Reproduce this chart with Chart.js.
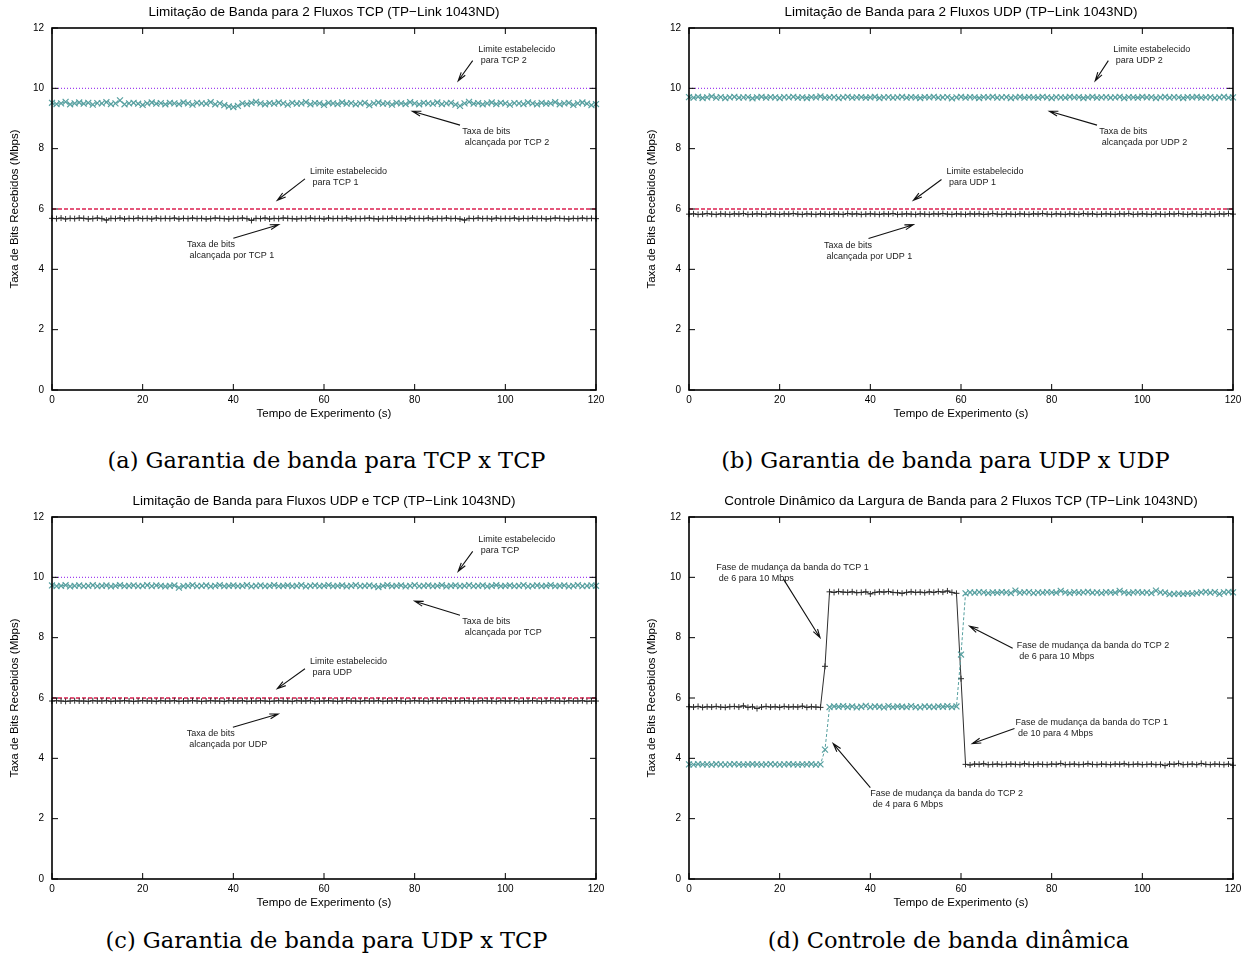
<!DOCTYPE html>
<html>
<head>
<meta charset="utf-8">
<script src="https://cdn.jsdelivr.net/npm/chart.js@4.4.0/dist/chart.umd.min.js"></script>
<style>
  body { margin: 0; background: #fff; }
  #page { position: relative; width: 1251px; height: 960px; overflow: hidden; }
  canvas { position: absolute; }
  .ttl { position: absolute; width: 544px; text-align: center; font: 13.5px "Liberation Sans", Arial, sans-serif; line-height: 16px; color: #000; white-space: nowrap; }
  .cap { position: absolute; width: 625px; text-align: center; font: 22.5px "DejaVu Serif", serif; line-height: 28px; color: #000; white-space: nowrap; }
</style>
</head>
<body>
<div id="page">
  <canvas id="chartA" width="625" height="430" style="left:0px;top:0px"></canvas>
  <canvas id="chartB" width="625" height="430" style="left:637px;top:0px"></canvas>
  <canvas id="chartC" width="625" height="430" style="left:0px;top:489px"></canvas>
  <canvas id="chartD" width="625" height="430" style="left:637px;top:489px"></canvas>

  <div class="ttl" style="left:52px;top:4px">Limitação de Banda para 2 Fluxos TCP (TP−Link 1043ND)</div>
  <div class="ttl" style="left:689px;top:4px">Limitação de Banda para 2 Fluxos UDP (TP−Link 1043ND)</div>
  <div class="ttl" style="left:52px;top:493px">Limitação de Banda para Fluxos UDP e TCP (TP−Link 1043ND)</div>
  <div class="ttl" style="left:639px;top:493px;width:644px">Controle Dinâmico da Largura de Banda para 2 Fluxos TCP (TP−Link 1043ND)</div>

  <div class="cap" style="left:14px;top:446px">(a) Garantia de banda para TCP x TCP</div>
  <div class="cap" style="left:633px;top:446px">(b) Garantia de banda para UDP x UDP</div>
  <div class="cap" style="left:14px;top:926px">(c) Garantia de banda para UDP x TCP</div>
  <div class="cap" style="left:636px;top:926px">(d) Controle de banda dinâmica</div>
</div>
<script>
/* axis ticks */
const xTicks = [0, 20, 40, 60, 80, 100, 120];
const yTicks = [0, 2, 4, 6, 8, 10, 12];

/* time of each sample (s) */
const seconds = [];
for (let s = 0; s <= 120; s++) seconds.push(s);

/* (a) TCP x TCP */
const tcp2RateA = [
  9.52,9.48,9.5,9.55,9.47,9.5,9.53,9.49,9.52,9.46,
  9.51,9.5,9.54,9.48,9.5,9.6,9.47,9.5,9.52,9.49,
  9.45,9.5,9.53,9.49,9.51,9.47,9.52,9.5,9.48,9.53,
  9.5,9.46,9.52,9.5,9.49,9.54,9.47,9.5,9.44,9.4,
  9.38,9.42,9.5,9.48,9.52,9.55,9.5,9.47,9.51,9.49,
  9.53,9.5,9.46,9.52,9.49,9.5,9.54,9.47,9.51,9.5,
  9.45,9.52,9.5,9.48,9.53,9.49,9.51,9.47,9.5,9.52,
  9.44,9.5,9.53,9.49,9.5,9.46,9.52,9.5,9.48,9.54,
  9.5,9.47,9.52,9.5,9.49,9.53,9.48,9.5,9.52,9.46,
  9.42,9.5,9.55,9.49,9.51,9.47,9.5,9.53,9.48,9.52,
  9.5,9.46,9.51,9.5,9.48,9.53,9.5,9.47,9.52,9.49,
  9.5,9.54,9.47,9.5,9.52,9.45,9.5,9.53,9.49,9.44,9.48
];
const tcp1RateA = [
  5.69,5.68,5.7,5.67,5.69,5.68,5.7,5.69,5.67,5.68,
  5.7,5.68,5.63,5.69,5.68,5.7,5.67,5.69,5.68,5.7,
  5.68,5.69,5.67,5.7,5.68,5.69,5.68,5.7,5.67,5.69,
  5.68,5.7,5.68,5.69,5.67,5.68,5.7,5.69,5.68,5.67,
  5.69,5.68,5.7,5.68,5.62,5.69,5.68,5.7,5.67,5.69,
  5.68,5.7,5.69,5.68,5.67,5.69,5.68,5.7,5.68,5.69,
  5.67,5.7,5.68,5.69,5.68,5.7,5.67,5.69,5.68,5.69,
  5.7,5.68,5.67,5.69,5.68,5.7,5.68,5.69,5.67,5.7,
  5.68,5.69,5.68,5.7,5.67,5.69,5.68,5.7,5.68,5.69,
  5.67,5.63,5.69,5.68,5.7,5.68,5.69,5.67,5.7,5.68,
  5.69,5.68,5.7,5.67,5.69,5.68,5.7,5.68,5.69,5.67,
  5.68,5.7,5.69,5.68,5.67,5.69,5.68,5.7,5.68,5.69,5.68
];
const limitsA = [10, 6];

/* (b) UDP x UDP */
const udp2RateB = [
  9.71,9.69,9.72,9.68,9.7,9.73,9.69,9.71,9.68,9.7,
  9.72,9.69,9.7,9.71,9.67,9.7,9.72,9.69,9.71,9.7,
  9.68,9.71,9.7,9.72,9.69,9.7,9.68,9.71,9.7,9.73,
  9.69,9.7,9.71,9.68,9.7,9.72,9.69,9.7,9.71,9.69,
  9.7,9.72,9.68,9.7,9.71,9.69,9.7,9.72,9.69,9.71,
  9.7,9.68,9.71,9.7,9.72,9.69,9.7,9.71,9.67,9.7,
  9.72,9.69,9.71,9.7,9.68,9.71,9.7,9.72,9.69,9.7,
  9.71,9.68,9.7,9.72,9.69,9.71,9.7,9.69,9.72,9.7,
  9.68,9.71,9.7,9.69,9.72,9.7,9.71,9.68,9.7,9.72,
  9.69,9.7,9.71,9.69,9.7,9.72,9.68,9.71,9.7,9.69,
  9.72,9.7,9.71,9.68,9.7,9.72,9.69,9.71,9.7,9.68,
  9.71,9.7,9.72,9.69,9.7,9.71,9.68,9.7,9.72,9.69,9.7
];
const udp1RateB = [
  5.83,5.84,5.82,5.83,5.85,5.83,5.82,5.84,5.83,5.82,
  5.84,5.83,5.85,5.82,5.83,5.84,5.83,5.82,5.84,5.83,
  5.82,5.84,5.83,5.85,5.83,5.82,5.84,5.83,5.82,5.84,
  5.83,5.82,5.84,5.83,5.82,5.85,5.83,5.84,5.82,5.83,
  5.84,5.83,5.82,5.84,5.83,5.85,5.82,5.83,5.84,5.83,
  5.82,5.84,5.83,5.82,5.84,5.83,5.85,5.83,5.82,5.84,
  5.83,5.82,5.84,5.83,5.84,5.82,5.83,5.85,5.83,5.82,
  5.84,5.83,5.82,5.84,5.83,5.82,5.84,5.83,5.85,5.83,
  5.82,5.84,5.83,5.82,5.84,5.83,5.82,5.85,5.83,5.84,
  5.82,5.83,5.84,5.83,5.82,5.84,5.83,5.85,5.82,5.83,
  5.84,5.83,5.82,5.84,5.83,5.82,5.84,5.83,5.85,5.83,
  5.82,5.84,5.83,5.82,5.84,5.83,5.82,5.84,5.83,5.85,5.83
];
const limitsB = [10, 6];

/* (c) UDP x TCP */
const tcpRateC = [
  9.73,9.71,9.72,9.74,9.7,9.72,9.73,9.71,9.72,9.74,
  9.71,9.72,9.73,9.7,9.72,9.74,9.71,9.72,9.73,9.71,
  9.72,9.74,9.71,9.73,9.72,9.7,9.72,9.73,9.66,9.71,
  9.72,9.74,9.71,9.72,9.73,9.7,9.72,9.74,9.71,9.72,
  9.73,9.71,9.72,9.74,9.7,9.72,9.73,9.71,9.72,9.74,
  9.71,9.72,9.73,9.71,9.72,9.74,9.7,9.72,9.73,9.71,
  9.72,9.74,9.71,9.72,9.73,9.7,9.72,9.74,9.71,9.72,
  9.73,9.71,9.68,9.72,9.74,9.71,9.72,9.73,9.7,9.72,
  9.74,9.71,9.72,9.73,9.71,9.72,9.74,9.7,9.72,9.73,
  9.71,9.72,9.74,9.71,9.72,9.73,9.7,9.72,9.74,9.71,
  9.72,9.73,9.71,9.72,9.74,9.7,9.72,9.73,9.71,9.72,
  9.74,9.71,9.72,9.73,9.7,9.72,9.74,9.71,9.72,9.73,9.72
];
const udpRateC = [
  5.9,5.91,5.9,5.89,5.9,5.91,5.9,5.9,5.89,5.91,
  5.9,5.9,5.91,5.89,5.9,5.9,5.91,5.9,5.89,5.9,
  5.91,5.9,5.9,5.89,5.91,5.9,5.9,5.91,5.89,5.9,
  5.9,5.91,5.9,5.89,5.9,5.91,5.9,5.9,5.89,5.91,
  5.9,5.9,5.91,5.89,5.9,5.9,5.91,5.9,5.89,5.9,
  5.91,5.9,5.9,5.89,5.91,5.9,5.9,5.91,5.89,5.9,
  5.9,5.91,5.9,5.89,5.9,5.91,5.9,5.9,5.89,5.91,
  5.9,5.9,5.91,5.89,5.9,5.9,5.91,5.9,5.89,5.9,
  5.91,5.9,5.9,5.89,5.91,5.9,5.9,5.91,5.89,5.9,
  5.9,5.91,5.9,5.89,5.9,5.91,5.9,5.9,5.89,5.91,
  5.9,5.9,5.91,5.89,5.9,5.9,5.91,5.9,5.89,5.9,
  5.91,5.9,5.9,5.89,5.91,5.9,5.9,5.91,5.89,5.9,5.9
];
const limitsC = [10, 6];

/* (d) dynamic control */
const tcp1RateD = [
  5.71,5.7,5.72,5.69,5.71,5.7,5.72,5.7,5.69,5.71,
  5.72,5.7,5.74,5.69,5.71,5.65,5.7,5.72,5.7,5.71,
  5.69,5.72,5.7,5.71,5.7,5.73,5.69,5.71,5.7,5.69,
  7.05,
  9.52,9.5,9.53,9.51,9.5,9.52,9.49,9.5,9.52,9.45,
  9.5,9.52,9.51,9.53,9.5,9.49,9.47,9.5,9.52,9.5,
  9.51,9.49,9.52,9.5,9.53,9.51,9.55,9.5,9.47,
  6.64,
  3.8,3.78,3.81,3.8,3.82,3.79,3.8,3.81,3.79,3.8,
  3.81,3.8,3.79,3.82,3.8,3.79,3.81,3.8,3.79,3.81,
  3.8,3.83,3.79,3.8,3.81,3.79,3.8,3.82,3.8,3.79,
  3.81,3.8,3.79,3.81,3.8,3.82,3.79,3.8,3.81,3.79,
  3.8,3.81,3.79,3.8,3.76,3.81,3.8,3.83,3.79,3.8,
  3.81,3.79,3.83,3.8,3.79,3.81,3.8,3.79,3.81,3.77
];
const tcp2RateD = [
  3.8,3.79,3.81,3.8,3.8,3.79,3.81,3.8,3.79,3.8,
  3.81,3.8,3.79,3.8,3.81,3.8,3.79,3.8,3.81,3.8,
  3.79,3.8,3.81,3.8,3.79,3.8,3.8,3.81,3.79,3.8,
  4.29,
  5.7,5.72,5.71,5.73,5.7,5.72,5.69,5.71,5.74,5.7,
  5.72,5.71,5.69,5.73,5.7,5.72,5.71,5.7,5.73,5.7,
  5.69,5.72,5.71,5.7,5.72,5.71,5.73,5.7,5.72,
  7.44,
  9.47,9.5,9.49,9.51,9.5,9.48,9.5,9.49,9.51,9.5,
  9.48,9.56,9.49,9.5,9.51,9.48,9.5,9.49,9.51,9.5,
  9.49,9.55,9.5,9.48,9.51,9.49,9.5,9.52,9.49,9.5,
  9.48,9.51,9.5,9.49,9.55,9.5,9.48,9.5,9.51,9.49,
  9.5,9.48,9.56,9.5,9.49,9.44,9.45,9.46,9.45,9.47,
  9.46,9.48,9.5,9.52,9.49,9.51,9.45,9.5,9.52,9.5
];

const TEAL = '#57a0a0';
const DARK = '#2e2e2e';
const PURPLE = '#a040f0';
const RED = '#dc2050';
const SANS = '"Liberation Sans", Arial, sans-serif';

function rateSet(values, style, color, dash) {
  return {
    data: values.map((v, i) => ({x: seconds[i], y: v})),
    borderColor: color,
    backgroundColor: color,
    borderWidth: 1,
    borderDash: dash || [],
    pointStyle: style,
    pointRadius: style === 'cross' ? 3 : 4.2,
    pointBorderColor: color,
    pointBorderWidth: style === 'cross' ? 1 : 1.2,
    tension: 0,
    clip: 6
  };
}

function limitSet(value, color, dash, width) {
  return {
    data: [{x: xTicks[0], y: value}, {x: xTicks[xTicks.length - 1], y: value}],
    borderColor: color,
    borderWidth: width,
    borderDash: dash,
    pointRadius: 0,
    tension: 0
  };
}

function arrow(ctx, x1, y1, x2, y2) {
  const ang = Math.atan2(y2 - y1, x2 - x1);
  const len = 9, spread = 0.28;
  ctx.beginPath();
  ctx.moveTo(x1, y1);
  ctx.lineTo(x2, y2);
  ctx.moveTo(x2 - len * Math.cos(ang - spread), y2 - len * Math.sin(ang - spread));
  ctx.lineTo(x2, y2);
  ctx.lineTo(x2 - len * Math.cos(ang + spread), y2 - len * Math.sin(ang + spread));
  ctx.stroke();
}

// gnuplot-like box: full border, inward mirrored ticks, labels with arrows
const gnuFrame = {
  id: 'gnuFrame',
  afterDatasetsDraw(chart, args, opts) {
    const {ctx, chartArea: a, scales: {x, y}} = chart;
    ctx.save();
    ctx.strokeStyle = '#000';
    ctx.lineWidth = 1;
    ctx.beginPath();
    xTicks.forEach(v => {
      const px = x.getPixelForValue(v);
      ctx.moveTo(px, a.bottom); ctx.lineTo(px, a.bottom - 6);
      ctx.moveTo(px, a.top); ctx.lineTo(px, a.top + 6);
    });
    yTicks.forEach(v => {
      const py = y.getPixelForValue(v);
      ctx.moveTo(a.left, py); ctx.lineTo(a.left + 6, py);
      ctx.moveTo(a.right, py); ctx.lineTo(a.right - 6, py);
    });
    ctx.stroke();
    ctx.lineWidth = 1.6;
    ctx.strokeRect(a.left, a.top, a.right - a.left, a.bottom - a.top);

    ctx.fillStyle = '#222';
    ctx.strokeStyle = '#111';
    ctx.lineWidth = 1.1;
    ctx.font = '9px ' + SANS;
    ctx.textBaseline = 'middle';
    (opts.notes || []).forEach(n => {
      const tx = x.getPixelForValue(n.at[0]);
      const ty = y.getPixelForValue(n.at[1]);
      n.text.forEach((line, i) => ctx.fillText(line, tx, ty + i * 11));
      arrow(ctx, x.getPixelForValue(n.from[0]), y.getPixelForValue(n.from[1]),
                 x.getPixelForValue(n.to[0]), y.getPixelForValue(n.to[1]));
    });
    ctx.restore();
  }
};

function makeChart(id, datasets, notes) {
  return new Chart(document.getElementById(id), {
    type: 'line',
    data: {datasets: datasets},
    options: {
      responsive: false,
      animation: false,
      devicePixelRatio: 1,
      events: [],
      layout: {padding: {top: 28, right: 29, bottom: 0, left: 0}},
      plugins: {
        legend: {display: false},
        tooltip: {enabled: false},
        gnuFrame: {notes: notes}
      },
      scales: {
        x: {
          type: 'linear',
          min: xTicks[0],
          max: xTicks[xTicks.length - 1],
          afterBuildTicks: s => { s.ticks = xTicks.map(v => ({value: v})); },
          afterFit: s => { s.height = 40; },
          ticks: {font: {family: SANS, size: 10}, color: '#000', padding: 4, maxRotation: 0},
          grid: {display: false, drawTicks: false},
          border: {display: false},
          title: {display: true, text: 'Tempo de Experimento (s)', color: '#000',
                  font: {family: SANS, size: 11.5}, padding: {top: 0, bottom: 9}}
        },
        y: {
          min: yTicks[0],
          max: yTicks[yTicks.length - 1],
          afterBuildTicks: s => { s.ticks = yTicks.map(v => ({value: v})); },
          afterFit: s => { s.width = 52; },
          ticks: {font: {family: SANS, size: 10}, color: '#000', padding: 8},
          grid: {display: false, drawTicks: false},
          border: {display: false},
          title: {display: true, text: 'Taxa de Bits Recebidos (Mbps)', color: '#000',
                  font: {family: SANS, size: 11.5}, padding: {top: 8, bottom: 0}}
        }
      }
    },
    plugins: [gnuFrame]
  });
}

makeChart('chartA', [
  rateSet(tcp2RateA, 'crossRot', TEAL, [3, 2]),
  rateSet(tcp1RateA, 'cross', DARK),
  limitSet(limitsA[0], PURPLE, [1, 2], 1.2),
  limitSet(limitsA[1], RED, [4, 2], 1.4)
], [
  {at: [94, 11.3], text: ['Limite estabelecido', ' para TCP 2'], from: [92.8, 10.92], to: [89.6, 10.25]},
  {at: [90.5, 8.57], text: ['Taxa de bits', ' alcançada por TCP 2'], from: [90, 8.78], to: [79.5, 9.24]},
  {at: [56.9, 7.24], text: ['Limite estabelecido', ' para TCP 1'], from: [55.8, 7.0], to: [49.7, 6.29]},
  {at: [29.8, 4.82], text: ['Taxa de bits', ' alcançada por TCP 1'], from: [40, 5.03], to: [50, 5.48]}
]);

makeChart('chartB', [
  rateSet(udp2RateB, 'crossRot', TEAL, [3, 2]),
  rateSet(udp1RateB, 'cross', DARK),
  limitSet(limitsB[0], PURPLE, [1, 2], 1.2),
  limitSet(limitsB[1], RED, [4, 2], 1.4)
], [
  {at: [93.6, 11.3], text: ['Limite estabelecido', ' para UDP 2'], from: [92.5, 10.92], to: [89.6, 10.25]},
  {at: [90.5, 8.57], text: ['Taxa de bits', ' alcançada por UDP 2'], from: [90, 8.78], to: [79.5, 9.24]},
  {at: [56.8, 7.24], text: ['Limite estabelecido', ' para UDP 1'], from: [55.7, 6.98], to: [49.5, 6.29]},
  {at: [29.8, 4.8], text: ['Taxa de bits', ' alcançada por UDP 1'], from: [39.6, 5.02], to: [49.5, 5.48]}
]);

makeChart('chartC', [
  rateSet(tcpRateC, 'crossRot', TEAL, [3, 2]),
  rateSet(udpRateC, 'cross', DARK),
  limitSet(limitsC[0], PURPLE, [1, 2], 1.2),
  limitSet(limitsC[1], RED, [4, 2], 1.4)
], [
  {at: [94, 11.24], text: ['Limite estabelecido', ' para TCP'], from: [92.8, 10.86], to: [89.6, 10.2]},
  {at: [90.5, 8.54], text: ['Taxa de bits', ' alcançada por TCP'], from: [90, 8.74], to: [80, 9.21]},
  {at: [56.9, 7.21], text: ['Limite estabelecido', ' para UDP'], from: [55.8, 6.97], to: [49.7, 6.31]},
  {at: [29.7, 4.81], text: ['Taxa de bits', ' alcançada por UDP'], from: [39.9, 5.03], to: [49.9, 5.47]}
]);

makeChart('chartD', [
  rateSet(tcp2RateD, 'crossRot', TEAL, [3, 2]),
  rateSet(tcp1RateD, 'cross', DARK)
], [
  {at: [6.0, 10.34], text: ['Fase de mudança da banda do TCP 1', ' de 6 para 10 Mbps'], from: [20.8, 9.95], to: [28.9, 8.0]},
  {at: [72.3, 7.75], text: ['Fase de mudança da banda do TCP 2', ' de 6 para 10 Mbps'], from: [71.4, 7.65], to: [61.9, 8.38]},
  {at: [72.0, 5.19], text: ['Fase de mudança da banda do TCP 1', ' de 10 para 4 Mbps'], from: [71.8, 4.99], to: [62.5, 4.49]},
  {at: [40.0, 2.83], text: ['Fase de mudança da banda do TCP 2', ' de 4 para 6 Mbps'], from: [40, 3.03], to: [31.8, 4.49]}
]);
</script>
</body>
</html>
